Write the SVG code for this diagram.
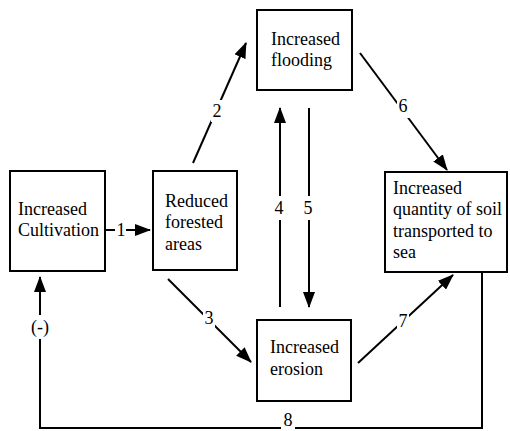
<svg xmlns="http://www.w3.org/2000/svg" width="510" height="431" viewBox="0 0 510 431">
<style>
  .box { fill: #fff; stroke: #000; stroke-width: 2; }
  .t { font-family: "Liberation Serif", "Times New Roman", serif; font-size: 18px; fill: #000; }
  .lbl { font-family: "Liberation Serif", "Times New Roman", serif; font-size: 18px; fill: #000; text-anchor: middle; }
  .c { fill: none; stroke: #000; stroke-width: 2; }
  .bg { fill: #fff; }
</style>
<defs>
  <marker id="ah" markerUnits="userSpaceOnUse" markerWidth="16" markerHeight="12" refX="15" refY="6" orient="auto">
    <path d="M0,0 L16,6 L0,12 Z" fill="#000"/>
  </marker>
</defs>
<rect width="510" height="431" fill="#fff"/>
<g id="connectors">
  <g id="c1"><line class="c" x1="106" y1="230" x2="150" y2="230" marker-end="url(#ah)"/><rect class="bg" x="115" y="220" width="11" height="20"/><text class="lbl" x="121" y="236">1</text></g>
  <g id="c2"><line class="c" x1="193" y1="163" x2="246" y2="43" marker-end="url(#ah)"/><rect class="bg" x="211" y="100" width="12" height="22"/><text class="lbl" x="217" y="117">2</text></g>
  <g id="c3"><line class="c" x1="168" y1="279" x2="251" y2="362" marker-end="url(#ah)"/><rect class="bg" x="203" y="307" width="12" height="22"/><text class="lbl" x="209" y="324">3</text></g>
  <g id="c4"><line class="c" x1="280" y1="307" x2="280" y2="108" marker-end="url(#ah)"/><rect class="bg" x="272" y="196" width="14" height="24"/><text class="lbl" x="279" y="214">4</text></g>
  <g id="c5"><line class="c" x1="309" y1="108" x2="309" y2="307" marker-end="url(#ah)"/><rect class="bg" x="302" y="196" width="14" height="24"/><text class="lbl" x="308" y="214">5</text></g>
  <g id="c6"><line class="c" x1="360" y1="53" x2="447" y2="170" marker-end="url(#ah)"/><rect class="bg" x="397" y="96" width="13" height="22"/><text class="lbl" x="403" y="112">6</text></g>
  <g id="c7"><line class="c" x1="358" y1="363" x2="453" y2="275" marker-end="url(#ah)"/><rect class="bg" x="397" y="310" width="12" height="22"/><text class="lbl" x="403" y="327">7</text></g>
  <g id="c8"><path class="c" d="M482,272 V428 H40 V277" marker-end="url(#ah)"/><rect class="bg" x="30" y="315" width="20" height="24"/><text class="lbl" x="40" y="333">(-)</text><rect class="bg" x="281" y="413" width="14" height="18"/><text class="lbl" x="288" y="426">8</text></g>
</g>
<g id="n1"><rect class="box" x="10" y="171" width="95" height="100"/><text class="t" x="18" y="215">Increased</text><text class="t" x="18" y="236">Cultivation</text></g>
<g id="n2"><rect class="box" x="153" y="171" width="84" height="99"/><text class="t" x="165" y="207">Reduced</text><text class="t" x="165" y="228">forested</text><text class="t" x="165" y="250">areas</text></g>
<g id="n3"><rect class="box" x="257" y="10" width="95" height="80"/><text class="t" x="271" y="45">Increased</text><text class="t" x="271" y="66">flooding</text></g>
<g id="n4"><rect class="box" x="257" y="320" width="94" height="81"/><text class="t" x="270" y="353">Increased</text><text class="t" x="270" y="375">erosion</text></g>
<g id="n5"><rect class="box" x="385" y="172" width="122" height="100"/><text class="t" x="393" y="194">Increased</text><text class="t" x="393" y="215">quantity of soil</text><text class="t" x="393" y="237">transported to</text><text class="t" x="393" y="258">sea</text></g>
</svg>
